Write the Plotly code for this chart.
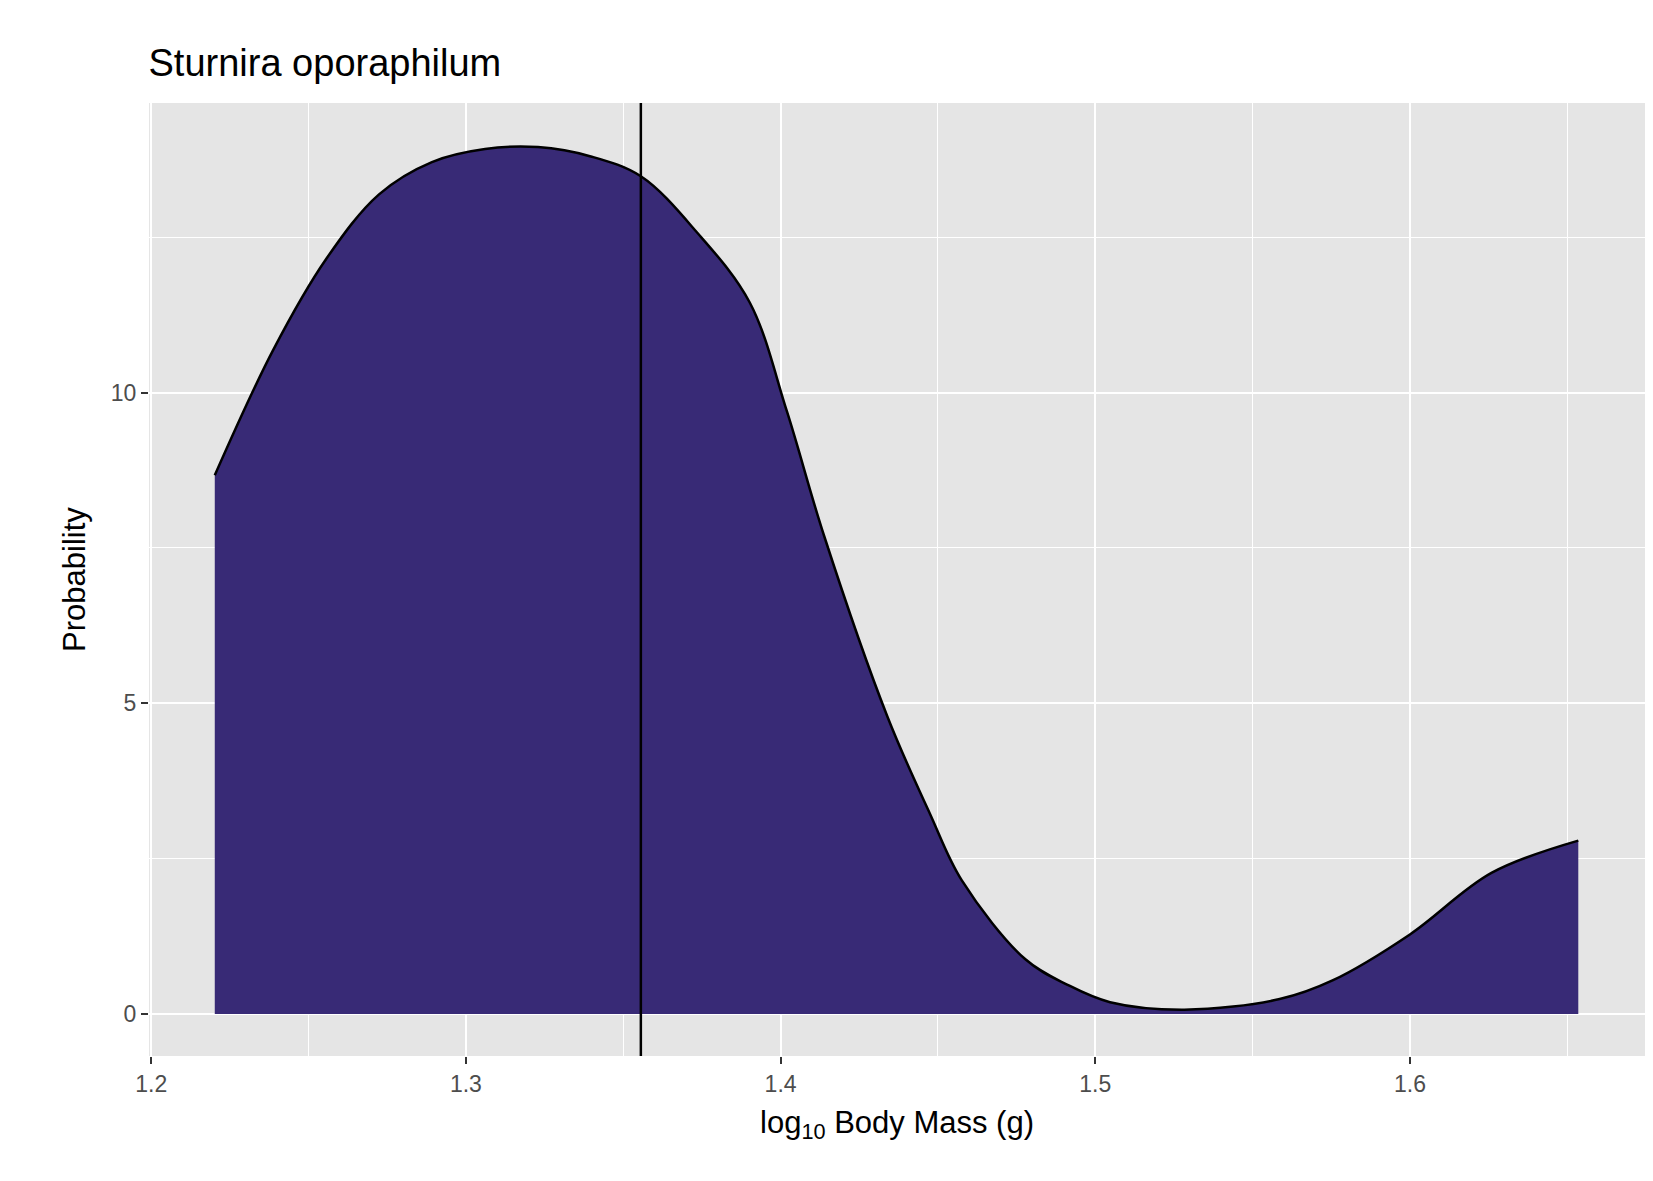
import plotly.graph_objects as go

mass = [1.2202, 1.2387, 1.2556, 1.2724, 1.2892, 1.3061, 1.3229, 1.3397, 1.3556,
        1.3734, 1.3902, 1.4020, 1.4138, 1.4340, 1.4475, 1.4576, 1.4778, 1.4912, 1.5047,
        1.5283, 1.5586, 1.5754, 1.6000, 1.6259, 1.6535]
density = [8.67, 10.68, 12.15, 13.19, 13.71, 13.92, 13.95, 13.80, 13.48,
           12.58, 11.45, 9.7, 7.7, 4.78, 3.22, 2.15, 0.88, 0.47, 0.19,
           0.07, 0.24, 0.54, 1.28, 2.27, 2.79]
mean_mass = 1.3556

fig = go.Figure()
fig.add_trace(go.Scatter(
    x=mass, y=density, mode="lines", fill="tozeroy", fillcolor="#382A76",
    line=dict(color="black", width=2.5, shape="spline", smoothing=1.0),
    showlegend=False,
))
fig.add_vline(x=mean_mass, line=dict(color="black", width=2.5))

axis_common = dict(
    showgrid=True, gridcolor="white", gridwidth=2.2,
    ticks="outside", ticklen=7, tickcolor="#333333", tickwidth=2,
    tickfont=dict(size=23, color="#4D4D4D", family="Liberation Sans, Arial"),
    zeroline=False, showline=False,
)
fig.update_xaxes(range=[1.1993, 1.6747], tickvals=[1.2, 1.3, 1.4, 1.5, 1.6],
                 minor=dict(tickvals=[1.25, 1.35, 1.45, 1.55, 1.65], showgrid=True,
                            gridcolor="white", gridwidth=1, ticks=""),
                 title=dict(text="log<sub>10</sub> Body Mass (g)", font=dict(size=31, color="black")),
                 **axis_common)
fig.update_yaxes(range=[-0.676, 14.66], tickvals=[0, 5, 10],
                 minor=dict(tickvals=[2.5, 7.5, 12.5], showgrid=True,
                            gridcolor="white", gridwidth=1, ticks=""),
                 title=dict(text="Probability", font=dict(size=31, color="black")),
                 **axis_common)
fig.update_layout(
    width=1653, height=1181,
    plot_bgcolor="#E5E5E5", paper_bgcolor="white",
    font=dict(family="Liberation Sans, Arial"),
    title=dict(text="Sturnira oporaphilum", x=0.085, xanchor="left", y=0.965,
               font=dict(size=38, color="black")),
    margin=dict(l=141, r=16, t=95, b=133),
)
fig.write_html("out.html")
